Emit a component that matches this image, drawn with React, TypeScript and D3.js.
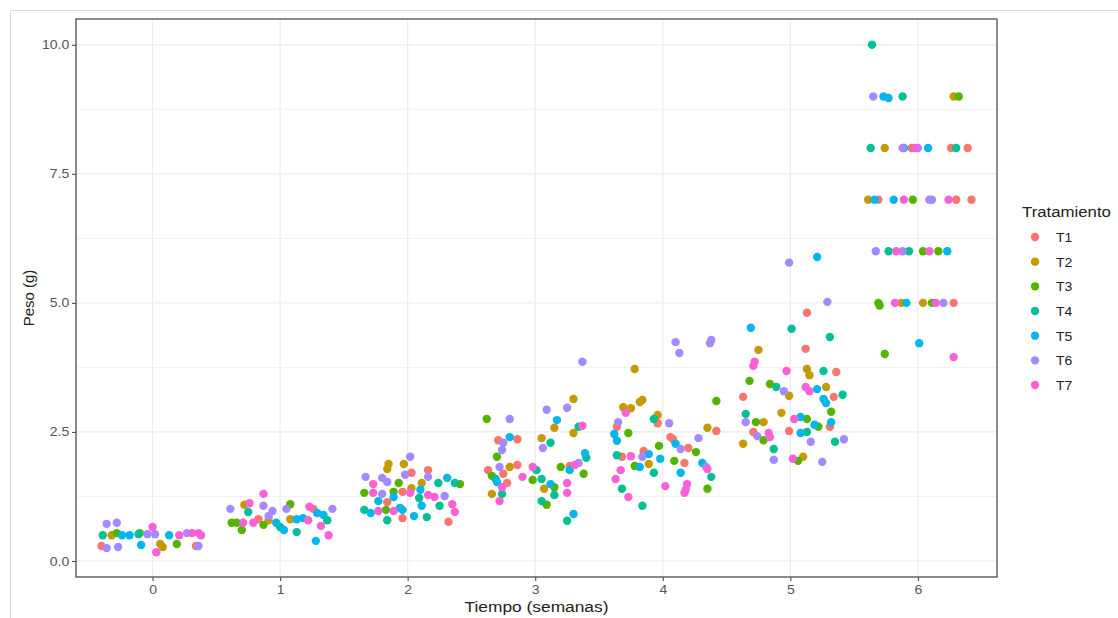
import { useEffect, useRef } from "react";
import * as d3 from "d3";

// jittered time (weeks) and weight (g) per treatment
const t1: [number, number][] = [
  [-0.4, 0.29], [0.34, 0.29],
  [0.83, 0.81], [1.26, 1.01],
  [2.03, 1.71], [2.16, 1.76], [1.96, 1.34], [1.84, 1.14], [1.96, 0.83], [2.32, 0.76],
  [2.71, 2.34], [2.86, 2.36], [2.63, 1.76], [2.86, 1.86], [3.27, 1.84], [2.75, 1.69], [2.78, 1.51],
  [3.64, 2.6], [3.96, 2.67], [4.42, 2.52], [4.06, 2.4], [4.08, 2.36], [4.2, 2.19], [3.68, 2.02], [3.85, 2.13], [4.17, 1.9],
  [5.13, 4.81], [5.12, 4.11], [5.36, 3.66], [5.34, 3.18], [4.63, 3.18], [5.31, 2.6], [4.99, 2.52], [4.71, 2.5],
  [5.95, 8.0], [6.26, 8.0], [6.39, 8.0], [5.69, 7.0], [6.3, 7.0], [6.42, 7.0], [6.28, 5.0],
];
const t2: [number, number][] = [
  [-0.32, 0.5], [0.06, 0.33], [0.08, 0.27],
  [0.72, 1.09], [0.91, 0.79], [1.08, 0.81],
  [1.85, 1.88], [1.84, 1.78], [1.97, 1.88], [2.11, 1.51], [2.03, 1.41],
  [3.3, 3.14], [3.15, 2.58], [3.3, 2.48], [3.05, 2.38], [2.8, 1.82], [3.07, 1.4], [2.66, 1.3],
  [3.78, 3.72], [3.69, 2.98], [3.75, 2.96], [3.82, 3.08], [3.84, 3.12], [3.96, 2.83], [4.35, 2.58], [3.89, 1.88],
  [4.75, 4.09], [5.13, 3.72], [5.15, 3.6], [4.99, 3.2], [5.28, 3.37], [4.79, 2.69], [4.93, 2.87], [4.63, 2.27], [5.1, 2.02],
  [6.28, 9.0], [5.74, 8.0], [5.61, 7.0], [5.87, 5.0], [6.04, 5.0],
];
const t3: [number, number][] = [
  [-0.28, 0.54], [-0.1, 0.54], [0.19, 0.33],
  [1.08, 1.1], [0.62, 0.74], [0.7, 0.6], [0.66, 0.74], [0.87, 0.7],
  [1.93, 1.51], [2.41, 1.49], [1.66, 1.32], [1.89, 1.34], [1.83, 0.99],
  [2.62, 2.75], [2.7, 2.02], [3.2, 1.82], [3.38, 1.69], [2.66, 1.65], [2.98, 1.57], [3.15, 1.43], [3.09, 1.09],
  [4.42, 3.1], [3.73, 2.48], [3.97, 2.23], [4.26, 2.11], [3.78, 1.84], [4.09, 1.94], [4.35, 1.4],
  [4.68, 3.49], [4.84, 3.43], [4.73, 2.69], [5.13, 2.75], [5.32, 2.89], [5.22, 2.6], [4.79, 2.34], [5.06, 1.94],
  [6.32, 9.0], [5.96, 7.0], [6.04, 6.0], [6.16, 6.0], [5.69, 5.0], [5.7, 4.95], [6.11, 5.0], [5.74, 4.01],
];
const t4: [number, number][] = [
  [-0.39, 0.5], [-0.11, 0.52],
  [0.75, 0.95], [1.0, 0.66], [1.13, 0.56], [1.37, 0.79],
  [2.24, 1.51], [2.37, 1.51], [2.09, 1.22], [2.25, 1.07], [1.66, 0.99], [1.84, 0.79], [2.15, 0.85],
  [3.34, 2.6], [3.12, 2.29], [3.4, 2.0], [2.69, 1.59], [3.01, 1.76], [3.05, 1.59], [2.74, 1.3], [3.15, 1.28], [3.05, 1.16], [3.25, 0.78],
  [3.93, 2.75], [3.64, 2.05], [4.38, 1.63], [3.93, 1.71], [3.68, 1.4], [3.84, 1.07],
  [5.01, 4.5], [5.31, 4.34], [5.26, 3.68], [4.89, 3.37], [5.41, 3.22], [4.65, 2.85], [5.13, 2.5], [5.35, 2.31], [4.87, 2.17],
  [5.64, 10.0], [5.88, 9.0], [5.63, 8.0], [6.3, 8.0], [5.77, 6.0], [5.93, 6.0],
];
const t5: [number, number][] = [
  [-0.24, 0.5], [-0.18, 0.5], [-0.09, 0.31], [0.13, 0.5],
  [0.97, 0.74], [1.03, 0.6], [1.13, 0.81], [1.18, 0.83], [1.29, 0.93], [1.34, 0.89], [1.28, 0.39],
  [2.31, 1.61], [2.1, 1.38], [1.77, 1.16], [1.89, 1.24], [2.11, 1.07], [1.71, 0.93], [1.94, 1.03], [1.96, 0.99], [2.05, 0.87],
  [3.17, 2.73], [2.8, 2.4], [3.39, 2.09], [3.27, 1.76], [3.12, 1.49], [2.7, 1.53], [3.3, 0.91],
  [3.62, 2.46], [3.64, 2.33], [4.1, 2.27], [3.89, 2.07], [3.98, 1.98], [3.82, 1.82], [4.31, 1.9], [4.14, 1.71],
  [4.69, 4.52], [5.21, 5.89], [5.21, 3.33], [5.26, 3.14], [5.28, 3.06], [5.08, 2.79], [5.32, 2.69], [5.19, 2.64], [5.08, 2.48],
  [5.73, 9.0], [5.77, 8.97], [5.89, 8.0], [6.08, 8.0], [5.66, 7.0], [5.81, 7.0], [5.91, 5.0], [6.23, 6.0], [6.01, 4.22],
];
const t6: [number, number][] = [
  [-0.36, 0.72], [-0.28, 0.74], [-0.04, 0.52], [0.02, 0.52], [-0.36, 0.25], [-0.27, 0.27], [0.27, 0.54], [0.36, 0.29],
  [0.61, 1.01], [0.87, 1.07], [0.94, 0.97], [1.05, 1.01], [1.41, 1.01], [0.91, 0.87],
  [2.02, 2.02], [1.67, 1.63], [1.98, 1.67], [1.8, 1.61], [1.84, 1.53], [2.16, 1.63], [1.8, 1.3], [2.29, 1.26],
  [3.37, 3.86], [3.25, 2.97], [3.09, 2.93], [2.8, 2.75], [2.75, 2.29], [2.74, 2.15], [3.06, 2.19], [2.72, 1.82], [3.34, 1.9],
  [4.1, 4.24], [4.13, 4.03], [4.38, 4.28], [4.37, 4.22], [3.65, 2.69], [4.05, 2.67], [4.28, 2.38], [4.14, 2.17], [3.84, 2.02], [4.34, 1.82],
  [4.99, 5.78], [5.29, 5.02], [4.95, 3.29], [4.65, 2.69], [4.74, 2.42], [5.16, 2.31], [5.42, 2.36], [4.87, 1.96], [5.25, 1.92],
  [5.65, 9.0], [5.88, 8.0], [6.0, 8.0], [6.09, 7.0], [6.11, 7.0], [5.67, 6.0], [5.88, 6.0], [6.2, 5.0],
];
const t7: [number, number][] = [
  [0.0, 0.66], [0.03, 0.17], [0.21, 0.5], [0.31, 0.54], [0.36, 0.54], [0.38, 0.5],
  [0.87, 1.3], [0.76, 1.12], [0.71, 0.74], [0.79, 0.74], [1.23, 1.05], [1.22, 0.79], [1.32, 0.68], [1.38, 0.5],
  [1.73, 1.49], [1.73, 1.32], [2.02, 1.32], [2.16, 1.28], [2.21, 1.24], [2.35, 1.1], [2.37, 0.95], [1.77, 0.97], [1.89, 0.97],
  [3.37, 2.62], [2.98, 1.82], [3.31, 1.86], [2.9, 1.63], [3.25, 1.51], [2.74, 1.43], [3.25, 1.32], [2.72, 1.16],
  [3.71, 2.87], [3.75, 2.03], [4.35, 1.78], [3.67, 1.76], [3.63, 1.59], [4.02, 1.45], [4.19, 1.49], [4.17, 1.32], [4.18, 1.38], [3.73, 1.24],
  [4.72, 3.86], [4.71, 3.78], [4.97, 3.68], [5.12, 3.37], [5.15, 3.29], [5.03, 2.75], [4.83, 2.48], [4.84, 2.4], [5.02, 1.98],
  [5.98, 8.0], [5.89, 7.0], [6.24, 7.0], [5.83, 6.0], [6.09, 6.0], [5.82, 5.0], [6.14, 5.0], [6.28, 3.95],
];

const treatments = ["T1", "T2", "T3", "T4", "T5", "T6", "T7"];
const series = [t1, t2, t3, t4, t5, t6, t7];
const colors = ["#F8766D", "#C49A00", "#53B400", "#00C094", "#00B6EB", "#A58AFF", "#FB61D7"];
const xTicks = [0, 1, 2, 3, 4, 5, 6];
const yTicks = [0, 2.5, 5, 7.5, 10];
const yMinor = [1.25, 3.75, 6.25, 8.75];

const FONT = "'Liberation Sans', Arial, Helvetica, sans-serif";
// the reference picture is a bit stretched sideways, text too
const SX = 1.12;

function App() {
  const ref = useRef<SVGSVGElement>(null);

  useEffect(() => {
    const W = 1118;
    const H = 618;
    const panel = { left: 76, right: 997, top: 19, bottom: 577 };
    const svg = d3.select(ref.current);
    svg.selectAll("*").remove();
    svg.attr("width", W).attr("height", H);

    svg.append("rect").attr("width", W).attr("height", H).attr("fill", "white");
    // faint frame of the picture
    svg.append("path")
      .attr("d", `M10.5,${H}V10.5H${W}`)
      .attr("fill", "none")
      .attr("stroke", "#dcdcdc");

    const x = d3.scaleLinear().domain([-0.6, 6.62]).range([panel.left, panel.right]);
    const y = d3.scaleLinear().domain([-0.31, 10.5]).range([panel.bottom, panel.top]);

    const g = svg.append("g");

    g.selectAll(".minor")
      .data(yMinor)
      .enter()
      .append("line")
      .attr("x1", panel.left)
      .attr("x2", panel.right)
      .attr("y1", (d) => y(d))
      .attr("y2", (d) => y(d))
      .attr("stroke", "#f2f2f2")
      .attr("stroke-width", 1);
    g.selectAll(".hmajor")
      .data(yTicks)
      .enter()
      .append("line")
      .attr("x1", panel.left)
      .attr("x2", panel.right)
      .attr("y1", (d) => y(d))
      .attr("y2", (d) => y(d))
      .attr("stroke", "#ebebeb")
      .attr("stroke-width", 1.2);
    g.selectAll(".vmajor")
      .data(xTicks)
      .enter()
      .append("line")
      .attr("y1", panel.top)
      .attr("y2", panel.bottom)
      .attr("x1", (d) => x(d))
      .attr("x2", (d) => x(d))
      .attr("stroke", "#ebebeb")
      .attr("stroke-width", 1.2);

    series.forEach((pts, i) => {
      g.selectAll(`.p${i}`)
        .data(pts)
        .enter()
        .append("circle")
        .attr("cx", (d) => x(d[0]))
        .attr("cy", (d) => y(d[1]))
        .attr("r", 4.2)
        .attr("fill", colors[i]);
    });

    svg.append("rect")
      .attr("x", panel.left)
      .attr("y", panel.top)
      .attr("width", panel.right - panel.left)
      .attr("height", panel.bottom - panel.top)
      .attr("fill", "none")
      .attr("stroke", "#4d4d4d")
      .attr("stroke-width", 1.3);

    const yAxis = d3.axisLeft(y).tickValues(yTicks).tickSize(4).tickFormat(d3.format(".1f"));
    const xAxis = d3.axisBottom(x).tickValues(xTicks).tickSize(4).tickFormat(d3.format("d"));

    const ya = svg.append("g").attr("transform", `translate(${panel.left},0)`).call(yAxis);
    const xa = svg.append("g").attr("transform", `translate(0,${panel.bottom})`).call(xAxis);
    [ya, xa].forEach((a) => {
      a.select(".domain").remove();
      a.selectAll("line").attr("stroke", "#4d4d4d").attr("stroke-width", 1.1);
      a.selectAll("text")
        .attr("fill", "#555")
        .attr("transform", `scale(${SX},1)`)
        .style("font-family", FONT)
        .style("font-size", "12.5px");
    });
    ya.selectAll("text").attr("x", -6);
    xa.selectAll("text").attr("y", 8);

    svg.append("text")
      .attr("transform", `translate(${(panel.left + panel.right) / 2},612) scale(${SX},1)`)
      .attr("text-anchor", "middle")
      .style("font-family", FONT)
      .style("font-size", "15.5px")
      .attr("fill", "#222")
      .text("Tiempo (semanas)");

    svg.append("text")
      .attr("transform", `translate(34,${(panel.top + panel.bottom) / 2}) rotate(-90)`)
      .attr("text-anchor", "middle")
      .style("font-family", FONT)
      .style("font-size", "15px")
      .attr("fill", "#222")
      .text("Peso (g)");

    const legend = svg.append("g").attr("transform", "translate(1022,0)");
    legend.append("text")
      .attr("transform", `translate(0,217) scale(${SX},1)`)
      .style("font-family", FONT)
      .style("font-size", "15px")
      .attr("fill", "#222")
      .text("Tratamiento");
    const ly = d3.scalePoint().domain(treatments).range([237, 385]);
    treatments.forEach((t, i) => {
      legend.append("circle")
        .attr("cx", 13)
        .attr("cy", ly(t)!)
        .attr("r", 4.2)
        .attr("fill", colors[i]);
      legend.append("text")
        .attr("transform", `translate(34,${ly(t)! + 5}) scale(${SX},1)`)
        .style("font-family", FONT)
        .style("font-size", "12.5px")
        .attr("fill", "#222")
        .text(t);
    });
  }, []);

  return (
    <div style={{ position: "absolute", left: 0, top: 0 }}>
      <svg ref={ref}></svg>
    </div>
  );
}

export default App;
